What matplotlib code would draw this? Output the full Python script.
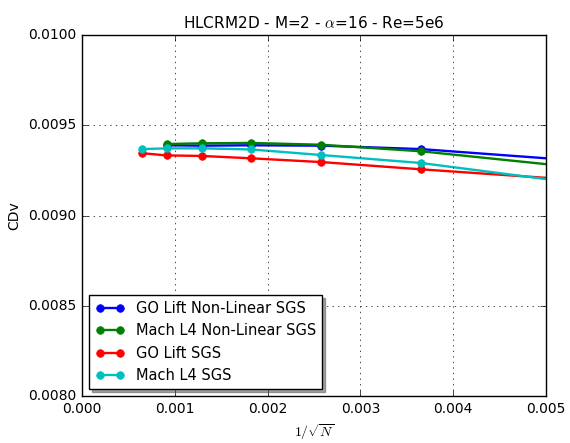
import numpy as np
import matplotlib
matplotlib.use('Agg')
import matplotlib.pyplot as plt

plt.style.use('classic')

# 1/sqrt(N) for each mesh
x_fine = [0.00065, 0.00091, 0.00129, 0.00182, 0.00258, 0.00365, 0.00516]
x_coarse = [0.00091, 0.00129, 0.00182, 0.00258, 0.00365, 0.00516]

go_lift_nl = [0.009389, 0.009387, 0.009389, 0.009387, 0.009368, 0.009311]
mach_l4_nl = [0.009396, 0.009400, 0.009402, 0.009392, 0.009356, 0.009276]
go_lift = [0.009345, 0.009333, 0.009330, 0.009317, 0.009296, 0.009256, 0.009203]
mach_l4 = [0.009368, 0.009372, 0.009372, 0.009366, 0.009335, 0.009291, 0.009191]

fig = plt.figure(figsize=(5.7, 4.43), dpi=100)
ax = fig.add_subplot(111)
fig.subplots_adjust(left=0.144, right=0.958, bottom=0.106, top=0.921)

ax.plot(x_coarse, go_lift_nl, 'o-', color='b', mec='b', lw=1.7, ms=5.5, label='GO Lift Non-Linear SGS')
ax.plot(x_coarse, mach_l4_nl, 'o-', color='g', mec='g', lw=1.7, ms=5.5, label='Mach L4 Non-Linear SGS')
ax.plot(x_fine, go_lift, 'o-', color='r', mec='r', lw=1.7, ms=5.5, label='GO Lift SGS')
ax.plot(x_fine, mach_l4, 'o-', color='c', mec='c', lw=1.7, ms=5.5, label='Mach L4 SGS')

ax.set_xlim(0, 0.005)
ax.set_ylim(0.008, 0.010)
ax.set_xticks(np.arange(0, 0.0051, 0.001))
ax.set_yticks(np.arange(0.008, 0.01001, 0.0005))
ax.set_xticklabels(['%.3f' % v for v in np.arange(0, 0.0051, 0.001)], fontsize=10)
ax.set_yticklabels(['%.4f' % v for v in np.arange(0.008, 0.01001, 0.0005)], fontsize=10)
ax.grid(True)

ax.set_title(r'HLCRM2D - M=2 - $\alpha$=16 - Re=5e6', fontsize=11)
ax.set_xlabel(r'$1/\sqrt{N}$', fontsize=10)
ax.set_ylabel('CDv', fontsize=10)
ax.legend(loc='lower left', shadow=True, fontsize=10.5)

fig.savefig('out.png', dpi=100, facecolor='w')
